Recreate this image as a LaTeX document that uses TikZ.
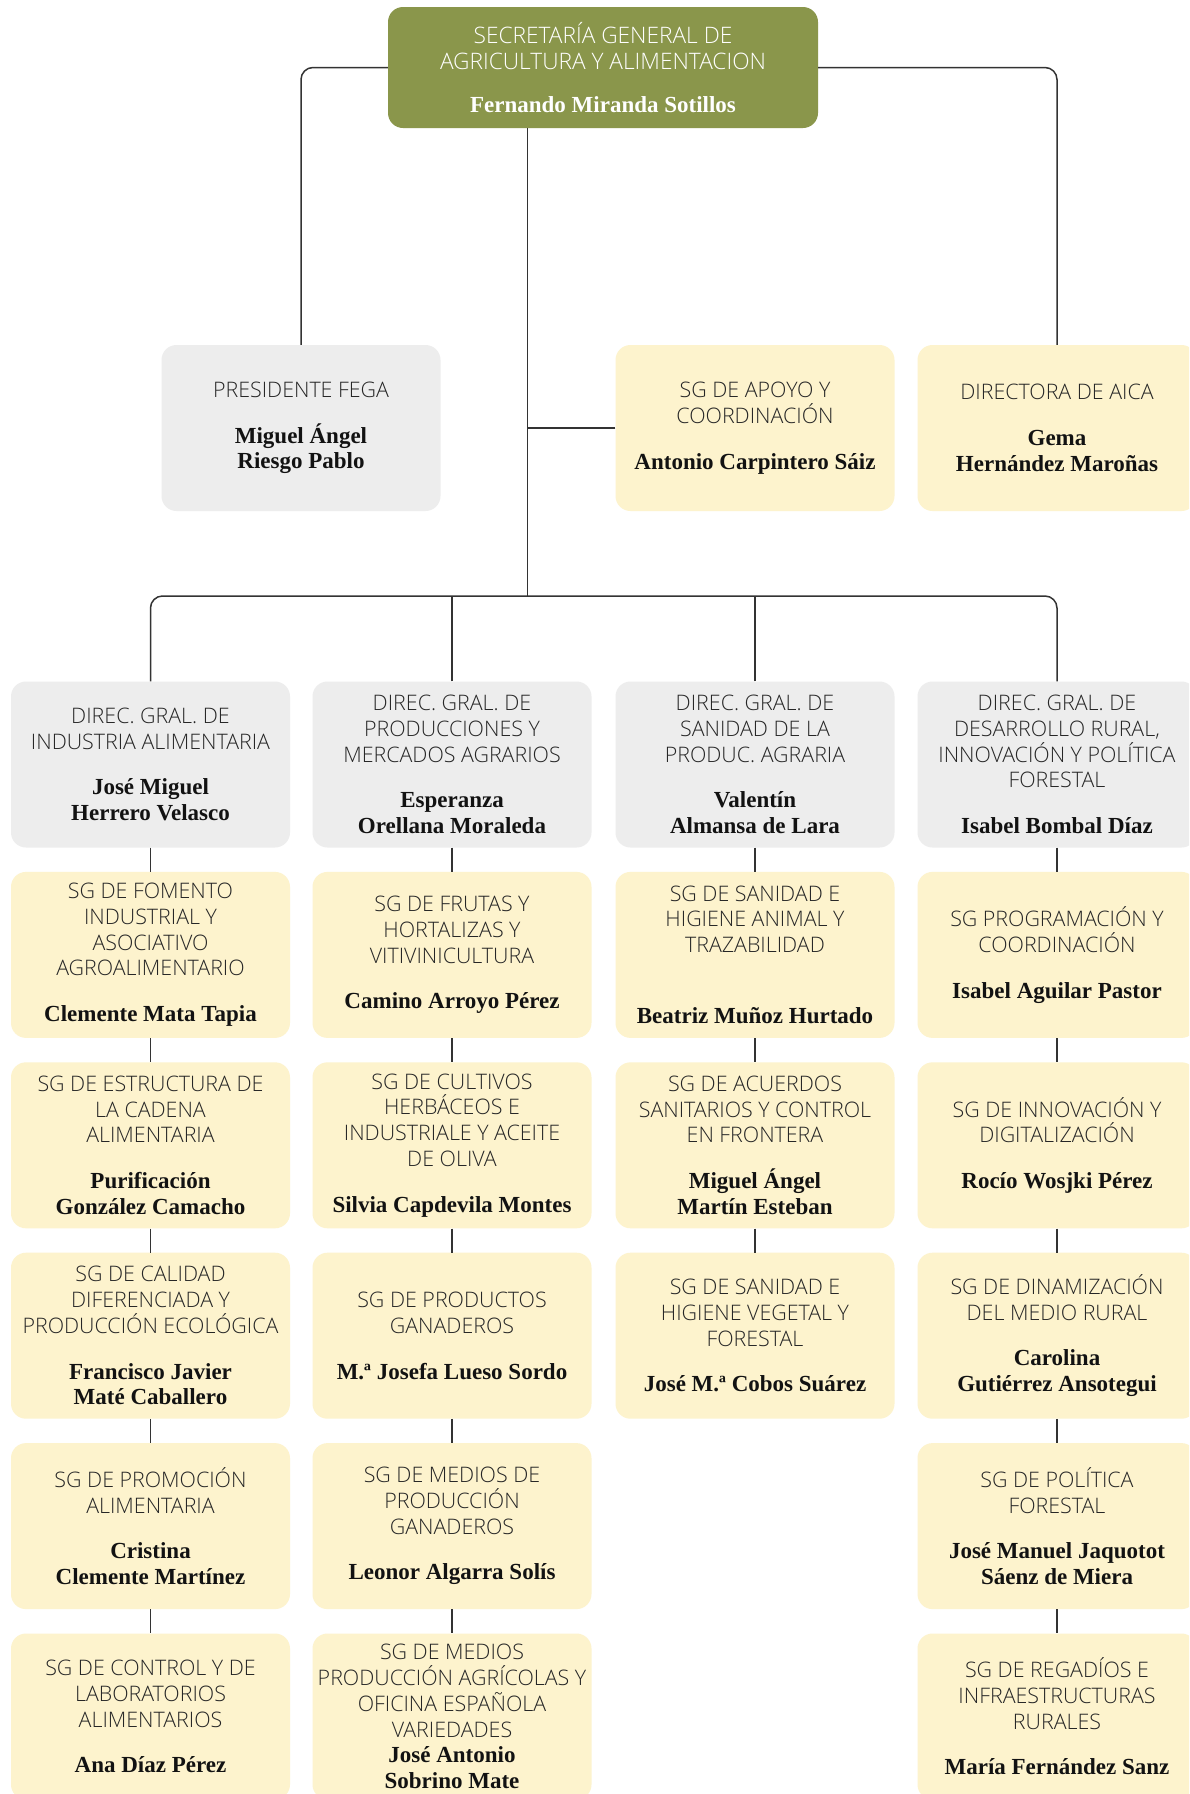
\documentclass[tikz,border=0pt]{standalone}
\usepackage{fontspec}
\IfFontExistsTF{Open Sans Light}{\newfontfamily\ttlfont{Open Sans Light}}{\newfontfamily\ttlfont{Open Sans}}
\newfontfamily\nmfont{Liberation Serif}
\definecolor{topgreen}{HTML}{8A964B}
\definecolor{boxgray}{HTML}{EDEDED}
\definecolor{boxyellow}{HTML}{FDF3CD}
\definecolor{linec}{HTML}{333333}
\definecolor{ttlc}{HTML}{262626}
\definecolor{nmc}{HTML}{121212}
\newcommand\ttl[1]{{\ttlfont\color{ttlc}#1}}
\newcommand\wttl[1]{{\ttlfont\fontsize{22.7}{26.3}\selectfont\color{white}#1}}
\newcommand\nm[1]{{\nmfont\bfseries\fontsize{23}{25.7}\selectfont\color{nmc}#1}}
\newcommand\wnm[1]{{\nmfont\bfseries\fontsize{23}{25.7}\selectfont\color{white}#1}}
\tikzset{
  box/.style={rectangle, rounded corners=15pt, minimum width=279pt, minimum height=166pt,
    inner sep=0pt, align=center, font=\fontsize{21.4}{25.7}\selectfont},
  gbox/.style={box, fill=boxgray},
  ybox/.style={box, fill=boxyellow},
  conn/.style={draw=linec, line width=1.5pt},
}
\begin{document}
\begin{tikzpicture}[x=1pt,y=-1pt]
\clip (0,0) rectangle (1189,1794);
\fill[white] (0,0) rectangle (1189,1794);

% top
\node[box, fill=topgreen, minimum width=430pt, minimum height=121pt, font=\fontsize{22.7}{26.3}\selectfont] (top) at (603,67.5)
  {\wttl{SECRETARÍA GENERAL DE}\\\wttl{AGRICULTURA Y ALIMENTACION}\\[17pt]\wnm{Fernando Miranda Sotillos}};

% second level
\node[gbox] (fega) at (301,428) {\ttl{PRESIDENTE FEGA}\\[20pt]\nm{Miguel Ángel}\\\nm{Riesgo Pablo}};
\node[ybox] (apoyo) at (755,428) {\ttl{SG DE APOYO Y}\\\ttl{COORDINACIÓN}\\[20pt]\nm{Antonio Carpintero Sáiz}};
\node[ybox] (aica) at (1057,428) {\ttl{DIRECTORA DE AICA}\\[20pt]\nm{Gema}\\\nm{Hernández Maroñas}};

% directors
\node[gbox] (d1) at (150.5,764.5) {\ttl{DIREC. GRAL. DE}\\\ttl{INDUSTRIA ALIMENTARIA}\\[20pt]\nm{José Miguel}\\\nm{Herrero Velasco}};
\node[gbox] (d2) at (452,764.5) {\ttl{DIREC. GRAL. DE}\\\ttl{PRODUCCIONES Y}\\\ttl{MERCADOS AGRARIOS}\\[20pt]\nm{Esperanza}\\\nm{Orellana Moraleda}};
\node[gbox] (d3) at (755,764.5) {\ttl{DIREC. GRAL. DE}\\\ttl{SANIDAD DE LA}\\\ttl{PRODUC. AGRARIA}\\[20pt]\nm{Valentín}\\\nm{Almansa de Lara}};
\node[gbox] (d4) at (1057,764.5) {\ttl{DIREC. GRAL. DE}\\\ttl{DESARROLLO RURAL,}\\\ttl{INNOVACIÓN Y POLÍTICA}\\\ttl{FORESTAL}\\[20pt]\nm{Isabel Bombal Díaz}};

% row 1
\node[ybox] (a1) at (150.5,954.9) {\ttl{SG DE FOMENTO}\\\ttl{INDUSTRIAL Y}\\\ttl{ASOCIATIVO}\\\ttl{AGROALIMENTARIO}\\[20pt]\nm{Clemente Mata Tapia}};
\node[ybox] (a2) at (452,954.9) {\ttl{SG DE FRUTAS Y}\\\ttl{HORTALIZAS Y}\\\ttl{VITIVINICULTURA}\\[20pt]\nm{Camino Arroyo Pérez}};
\node[ybox] (a3) at (755,954.9) {\ttl{SG DE SANIDAD E}\\\ttl{HIGIENE ANIMAL Y}\\\ttl{TRAZABILIDAD}\\[45.7pt]\nm{Beatriz Muñoz Hurtado}};
\node[ybox] (a4) at (1057,954.9) {\ttl{SG PROGRAMACIÓN Y}\\\ttl{COORDINACIÓN}\\[20pt]\nm{Isabel Aguilar Pastor}};

% row 2
\node[ybox] (b1) at (150.5,1145.3) {\ttl{SG DE ESTRUCTURA DE}\\\ttl{LA CADENA}\\\ttl{ALIMENTARIA}\\[20pt]\nm{Purificación}\\\nm{González Camacho}};
\node[ybox] (b2) at (452,1145.3) {\ttl{SG DE CULTIVOS}\\\ttl{HERBÁCEOS E}\\\ttl{INDUSTRIALE Y ACEITE}\\\ttl{DE OLIVA}\\[20pt]\nm{Silvia Capdevila Montes}};
\node[ybox] (b3) at (755,1145.3) {\ttl{SG DE ACUERDOS}\\\ttl{SANITARIOS Y CONTROL}\\\ttl{EN FRONTERA}\\[20pt]\nm{Miguel Ángel}\\\nm{Martín Esteban}};
\node[ybox] (b4) at (1057,1145.3) {\ttl{SG DE INNOVACIÓN Y}\\\ttl{DIGITALIZACIÓN}\\[20pt]\nm{Rocío Wosjki Pérez}};

% row 3
\node[ybox] (c1) at (150.5,1335.7) {\ttl{SG DE CALIDAD}\\\ttl{DIFERENCIADA Y}\\\ttl{PRODUCCIÓN ECOLÓGICA}\\[20pt]\nm{Francisco Javier}\\\nm{Maté Caballero}};
\node[ybox] (c2) at (452,1335.7) {\ttl{SG DE PRODUCTOS}\\\ttl{GANADEROS}\\[20pt]\nm{M.ª Josefa Lueso Sordo}};
\node[ybox] (c3) at (755,1335.7) {\ttl{SG DE SANIDAD E}\\\ttl{HIGIENE VEGETAL Y}\\\ttl{FORESTAL}\\[20pt]\nm{José M.ª Cobos Suárez}};
\node[ybox] (c4) at (1057,1335.7) {\ttl{SG DE DINAMIZACIÓN}\\\ttl{DEL MEDIO RURAL}\\[20pt]\nm{Carolina}\\\nm{Gutiérrez Ansotegui}};

% row 4
\node[ybox] (e1) at (150.5,1526.1) {\ttl{SG DE PROMOCIÓN}\\\ttl{ALIMENTARIA}\\[20pt]\nm{Cristina}\\\nm{Clemente Martínez}};
\node[ybox] (e2) at (452,1526.1) {\ttl{SG DE MEDIOS DE}\\\ttl{PRODUCCIÓN}\\\ttl{GANADEROS}\\[20pt]\nm{Leonor Algarra Solís}};
\node[ybox] (e4) at (1057,1526.1) {\ttl{SG DE POLÍTICA}\\\ttl{FORESTAL}\\[20pt]\nm{José Manuel Jaquotot}\\\nm{Sáenz de Miera}};

% row 5
\node[ybox] (f1) at (150.5,1716.5) {\ttl{SG DE CONTROL Y DE}\\\ttl{LABORATORIOS}\\\ttl{ALIMENTARIOS}\\[20pt]\nm{Ana Díaz Pérez}};
\node[ybox] (f2) at (452,1716.5) {\ttl{SG DE MEDIOS}\\\ttl{PRODUCCIÓN AGRÍCOLAS Y}\\\ttl{OFICINA ESPAÑOLA}\\\ttl{VARIEDADES}\\\nm{José Antonio}\\\nm{Sobrino Mate}};
\node[ybox] (f4) at (1057,1716.5) {\ttl{SG DE REGADÍOS E}\\\ttl{INFRAESTRUCTURAS}\\\ttl{RURALES}\\[20pt]\nm{María Fernández Sanz}};

% connectors
\coordinate (trunk) at (527.5,596);
\draw[conn, rounded corners=12pt] (top.west) -| (fega.north);
\draw[conn, rounded corners=12pt] (top.east) -| (aica.north);
\draw[conn] (top.south -| trunk) -- (trunk);
\draw[conn] (apoyo.west) -- (apoyo.west -| trunk);
\draw[conn, rounded corners=12pt] (d1.north) |- (d4.north |- trunk) -- (d4.north);
\draw[conn] (d2.north) -- (d2.north |- trunk);
\draw[conn] (d3.north) -- (d3.north |- trunk);
\foreach \u/\v in {d1/a1,a1/b1,b1/c1,c1/e1,e1/f1,
                   d2/a2,a2/b2,b2/c2,c2/e2,e2/f2,
                   d3/a3,a3/b3,b3/c3,
                   d4/a4,a4/b4,b4/c4,c4/e4,e4/f4}
  \draw[conn] (\u.south) -- (\v.north);
\end{tikzpicture}
\end{document}
